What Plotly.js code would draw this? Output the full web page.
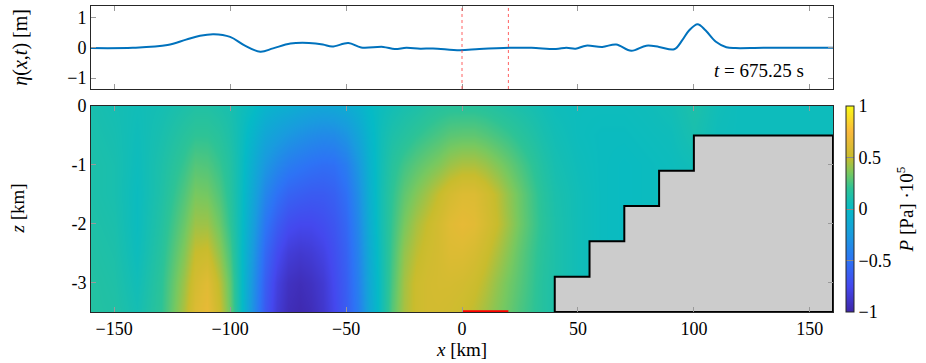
<!DOCTYPE html>
<html>
<head>
<meta charset="utf-8">
<script src="https://cdn.plot.ly/plotly-3.0.1.min.js"></script>
<style>
    html, body { margin: 0; padding: 0; background: #fff; }
    #plot { width: 926px; height: 363px; }
</style>
</head>
<body>
<div id="plot"></div>
<script>
// surface elevation eta(x,t) [m]
const etaX = [-160, -142, -127, -119, -113, -107, -100, -94, -87, -81.5, -74, -66, -60, -56,
    -49, -43.5, -34, -29, -24, -18, -12.5, -1, 7.5, 20.5, 30, 40.5, 45, 49, 53.5, 60.5,
    66.5, 73, 79.5, 85, 91.5, 95, 98, 101.6, 105, 109.5, 114, 118, 130, 160];
const etaY = [-0.01, 0, 0.09, 0.27, 0.40, 0.45, 0.36, 0.09, -0.13, -0.02, 0.14, 0.16, 0.11, 0.04,
    0.16, 0.01, 0.03, -0.04, 0, -0.03, -0.02, -0.08, -0.04, 0, 0, -0.04, 0, -0.03, 0.07, 0.03,
    0.11, -0.10, 0.07, 0.03, -0.05, 0.25, 0.58, 0.78, 0.58, 0.20, 0.02, -0.01, 0, 0];

// source region on the sea floor [km]
const sourceX = [0, 20];

// pressure field P [Pa]*1e5 sampled at (gridX, gridZ); one column of depths per x
const gridX = [-160, -150, -140, -130, -120, -115, -110, -105, -100, -95, -90, -85, -80, -75,
    -70, -65, -60, -55, -50, -45, -40, -35, -30, -25, -20, -15, -10, -5, 0, 5, 10, 15, 20,
    25, 30, 35, 40, 50, 60, 70, 80, 90, 100, 110, 120, 130, 140, 150, 160];
const gridZ = [0, -0.5, -1, -1.5, -2, -2.5, -3, -3.5];
const pressureCols = [
    [0.10, 0.11, 0.12, 0.12, 0.13, 0.14, 0.15, 0.15],
    [0.08, 0.09, 0.10, 0.10, 0.11, 0.12, 0.13, 0.14],
    [0.06, 0.05, 0.04, 0.03, 0.03, 0.04, 0.06, 0.08],
    [0.08, 0.10, 0.12, 0.13, 0.15, 0.17, 0.19, 0.20],
    [0.12, 0.17, 0.22, 0.27, 0.32, 0.37, 0.42, 0.45],
    [0.14, 0.20, 0.28, 0.35, 0.42, 0.50, 0.56, 0.60],
    [0.14, 0.20, 0.27, 0.34, 0.42, 0.52, 0.62, 0.66],
    [0.12, 0.17, 0.22, 0.27, 0.33, 0.40, 0.48, 0.52],
    [0.10, 0.12, 0.15, 0.17, 0.20, 0.25, 0.30, 0.32],
    [0.05, 0.04, 0.03, 0.02, 0.01, 0.00, 0.00, 0.00],
    [0.02, -0.05, -0.11, -0.16, -0.21, -0.26, -0.30, -0.32],
    [-0.05, -0.16, -0.27, -0.38, -0.48, -0.56, -0.62, -0.65],
    [-0.08, -0.22, -0.37, -0.51, -0.63, -0.73, -0.81, -0.84],
    [-0.10, -0.27, -0.44, -0.59, -0.72, -0.83, -0.91, -0.94],
    [-0.13, -0.31, -0.48, -0.62, -0.75, -0.86, -0.94, -0.97],
    [-0.15, -0.34, -0.51, -0.64, -0.75, -0.84, -0.91, -0.94],
    [-0.16, -0.36, -0.53, -0.64, -0.72, -0.79, -0.85, -0.87],
    [-0.15, -0.35, -0.52, -0.61, -0.67, -0.71, -0.74, -0.76],
    [-0.12, -0.29, -0.44, -0.52, -0.57, -0.60, -0.62, -0.63],
    [-0.07, -0.17, -0.27, -0.33, -0.37, -0.40, -0.42, -0.44],
    [0.00, -0.04, -0.07, -0.09, -0.11, -0.13, -0.15, -0.16],
    [0.04, 0.06, 0.07, 0.08, 0.08, 0.07, 0.06, 0.06],
    [0.07, 0.12, 0.17, 0.20, 0.22, 0.24, 0.26, 0.28],
    [0.10, 0.16, 0.24, 0.30, 0.35, 0.40, 0.43, 0.44],
    [0.12, 0.20, 0.29, 0.37, 0.44, 0.48, 0.52, 0.52],
    [0.15, 0.23, 0.33, 0.43, 0.50, 0.53, 0.55, 0.55],
    [0.17, 0.26, 0.37, 0.50, 0.56, 0.56, 0.56, 0.55],
    [0.18, 0.29, 0.42, 0.56, 0.62, 0.60, 0.56, 0.54],
    [0.18, 0.30, 0.45, 0.60, 0.65, 0.60, 0.55, 0.52],
    [0.18, 0.30, 0.45, 0.60, 0.63, 0.57, 0.52, 0.48],
    [0.17, 0.28, 0.42, 0.55, 0.57, 0.52, 0.47, 0.43],
    [0.15, 0.25, 0.37, 0.48, 0.50, 0.45, 0.40, 0.37],
    [0.13, 0.22, 0.32, 0.40, 0.42, 0.38, 0.34, 0.32],
    [0.11, 0.18, 0.26, 0.32, 0.33, 0.30, 0.28, 0.26],
    [0.09, 0.14, 0.20, 0.24, 0.25, 0.23, 0.22, 0.21],
    [0.07, 0.10, 0.14, 0.17, 0.18, 0.17, 0.16, 0.16],
    [0.05, 0.07, 0.09, 0.11, 0.12, 0.12, 0.12, 0.12],
    [0.04, 0.04, 0.05, 0.06, 0.06, 0.06, 0.06, 0.06],
    [0.04, 0.03, 0.03, 0.03, 0.03, 0.03, 0.03, 0.03],
    [0.04, 0.03, 0.02, 0.02, 0.02, 0.02, 0.02, 0.02],
    [0.05, 0.04, 0.03, 0.03, 0.03, 0.03, 0.03, 0.03],
    [0.07, 0.05, 0.04, 0.04, 0.04, 0.04, 0.04, 0.04],
    [0.12, 0.10, 0.06, 0.05, 0.05, 0.05, 0.05, 0.05],
    [0.06, 0.05, 0.04, 0.04, 0.04, 0.04, 0.04, 0.04],
    [0.04, 0.04, 0.04, 0.04, 0.04, 0.04, 0.04, 0.04],
    [0.04, 0.04, 0.04, 0.04, 0.04, 0.04, 0.04, 0.04],
    [0.04, 0.04, 0.04, 0.04, 0.04, 0.04, 0.04, 0.04],
    [0.04, 0.04, 0.04, 0.04, 0.04, 0.04, 0.04, 0.04],
    [0.04, 0.04, 0.04, 0.04, 0.04, 0.04, 0.04, 0.04],
];

// staircase bathymetry: step edges [km] and the depth of each step top [km]
const stepX = [40, 55, 70, 85, 100];
const stepZ = [-2.9, -2.3, -1.7, -1.1, -0.5];

const xRange = [-160, 160];
const zBottom = -3.5;

const parula = [
    [0.0, 'rgb(62,38,168)'],
    [0.125, 'rgb(68,72,238)'],
    [0.25, 'rgb(45,115,245)'],
    [0.375, 'rgb(25,155,222)'],
    [0.5, 'rgb(5,186,198)'],
    [0.6, 'rgb(45,195,150)'],
    [0.675, 'rgb(120,200,95)'],
    [0.75, 'rgb(200,188,45)'],
    [0.875, 'rgb(250,185,60)'],
    [1.0, 'rgb(249,250,20)'],
];

const font = { family: 'Liberation Serif', size: 18, color: '#000' };
const titleFont = Object.assign({}, font, { size: 19 });

// heatmap wants rows per depth
const pressureZ = gridZ.map((_, j) => pressureCols.map(col => col[j]));

// closed outline of the sea floor block
const bedX = [stepX[0]];
const bedZ = [zBottom];
for (let i = 0; i < stepX.length; i++) {
    bedX.push(stepX[i]);
    bedZ.push(stepZ[i]);
    const next = i + 1 < stepX.length ? stepX[i + 1] : xRange[1];
    bedX.push(next);
    bedZ.push(stepZ[i]);
}
bedX.push(xRange[1]);
bedZ.push(zBottom);
bedX.push(stepX[0]);
bedZ.push(zBottom);

const axisCommon = {
    showline: true,
    linecolor: '#262626',
    linewidth: 1,
    mirror: 'ticks',
    ticks: 'inside',
    ticklen: 5,
    tickcolor: '#9a9a9a',
    tickwidth: 1,
    showgrid: false,
    zeroline: false,
    tickfont: font,
};

const data = [
    {
        type: 'scatter',
        x: etaX,
        y: etaY,
        xaxis: 'x',
        yaxis: 'y',
        mode: 'lines',
        line: { color: '#0072bd', width: 2, shape: 'spline', smoothing: 1 },
        hoverinfo: 'skip',
    },
    {
        type: 'heatmap',
        x: gridX,
        y: gridZ,
        z: pressureZ,
        xaxis: 'x2',
        yaxis: 'y2',
        zmin: -1,
        zmax: 1,
        zsmooth: 'best',
        colorscale: parula,
        colorbar: {
            x: 1.0175,
            xanchor: 'left',
            xpad: 0,
            y: 0,
            yanchor: 'bottom',
            ypad: 0,
            len: 0.6732,
            lenmode: 'fraction',
            thickness: 8,
            outlinewidth: 1,
            outlinecolor: '#262626',
            ticks: 'inside',
            ticklen: 8,
            tickcolor: '#8a8a8a',
            tickvals: [-1, -0.5, 0, 0.5, 1],
            tickfont: font,
            title: { text: '<i>P</i> [Pa] ·10<sup>5</sup>', side: 'right', font: titleFont },
        },
        hoverinfo: 'skip',
    },
    {
        type: 'scatter',
        x: bedX,
        y: bedZ,
        xaxis: 'x2',
        yaxis: 'y2',
        mode: 'lines',
        fill: 'toself',
        fillcolor: '#cccccc',
        line: { color: '#000', width: 2 },
        hoverinfo: 'skip',
    },
    {
        type: 'scatter',
        x: sourceX,
        y: [zBottom, zBottom],
        xaxis: 'x2',
        yaxis: 'y2',
        mode: 'lines',
        line: { color: '#ff0000', width: 3.5 },
        cliponaxis: false,
        hoverinfo: 'skip',
    },
];

const layout = {
    width: 926,
    height: 363,
    margin: { l: 91, r: 93, t: 6, b: 51, autoexpand: false },
    paper_bgcolor: '#fff',
    plot_bgcolor: '#fff',
    showlegend: false,
    font: font,
    xaxis: Object.assign({}, axisCommon, {
        domain: [0, 1],
        range: xRange,
        tickvals: [-150, -100, -50, 0, 50, 100, 150],
        showticklabels: false,
        anchor: 'y',
    }),
    yaxis: Object.assign({}, axisCommon, {
        domain: [0.7288, 1],
        range: [-1.36, 1.38],
        tickvals: [-1, 0, 1],
        anchor: 'x',
    }),
    xaxis2: Object.assign({}, axisCommon, {
        domain: [0, 1],
        range: xRange,
        tickvals: [-150, -100, -50, 0, 50, 100, 150],
        anchor: 'y2',
        title: { text: '<i>x</i> [km]', font: titleFont, standoff: 2 },
    }),
    yaxis2: Object.assign({}, axisCommon, {
        domain: [0, 0.6732],
        range: [zBottom, 0],
        tickvals: [0, -1, -2, -3],
        ticktext: ['0', '-1', '-2', '-3'],
        anchor: 'x2',
    }),
    shapes: sourceX.map(x0 => ({
        type: 'line',
        xref: 'x',
        yref: 'y domain',
        x0: x0,
        x1: x0,
        y0: 0,
        y1: 1,
        line: { color: '#ff3b3b', width: 1, dash: 'dot' },
        opacity: 0.8,
    })),
    annotations: [
        {
            text: '<i>t</i> = 675.25 s',
            xref: 'x',
            yref: 'y',
            x: 128,
            y: -0.74,
            showarrow: false,
            font: Object.assign({}, font, { size: 19 }),
        },
        {
            text: '<i>η</i>(<i>x</i>,<i>t</i>) [m]',
            xref: 'paper',
            yref: 'paper',
            x: -0.0955,
            y: 0.8644,
            xanchor: 'center',
            yanchor: 'middle',
            textangle: -90,
            showarrow: false,
            font: Object.assign({}, font, { size: 20 }),
        },
        {
            text: '<i>z</i> [km]',
            xref: 'paper',
            yref: 'paper',
            x: -0.0985,
            y: 0.338,
            xanchor: 'center',
            yanchor: 'middle',
            textangle: -90,
            showarrow: false,
            font: titleFont,
        },
    ],
};

Plotly.newPlot('plot', data, layout, { staticPlot: true, displayModeBar: false });
</script>
</body>
</html>
